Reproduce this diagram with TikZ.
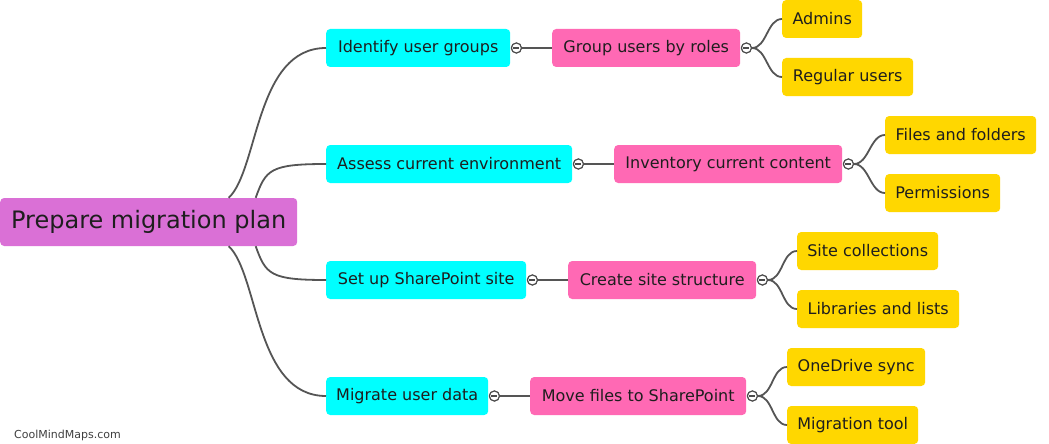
\documentclass[tikz,border=0pt]{standalone}
\usepackage{fontspec}
\setmainfont{DejaVu Sans}
\definecolor{lvlzero}{HTML}{DA70D6}
\definecolor{lvlone}{HTML}{00FFFF}
\definecolor{lvltwo}{HTML}{FF69B4}
\definecolor{lvlthree}{HTML}{FFD700}
\definecolor{txt}{HTML}{1E1E1E}
\definecolor{edge}{HTML}{555555}
\tikzset{
  box/.style={rounded corners=4pt, inner sep=0pt, minimum height=38pt, anchor=west,
    text=txt, font=\fontsize{16}{19}\selectfont},
  rootbox/.style={box, fill=lvlzero, minimum height=48pt, font=\fontsize{24}{28}\selectfont},
  onebox/.style={box, fill=lvlone},
  twobox/.style={box, fill=lvltwo},
  threebox/.style={box, fill=lvlthree},
  link/.style={draw=edge, line width=1.8pt},
  toggle/.style={circle, draw=txt!80, fill=white, line width=1.1pt, minimum size=10pt, inner sep=0pt,
    path picture={\draw[line width=1.1pt, txt!80] ([xshift=-3pt]path picture bounding box.center) -- ([xshift=3pt]path picture bounding box.center);}}
}
\begin{document}
\begin{tikzpicture}[x=1pt, y=-1pt]
\useasboundingbox[fill=white] (0,0) rectangle (1049,444);

% root
\node[rootbox, minimum width=297pt] (root) at (0,222) {Prepare migration plan};

% level one
\node[onebox, minimum width=184pt] (a1) at (326,48) {Identify user groups};
\node[onebox, minimum width=246pt] (a2) at (326,164) {Assess current environment};
\node[onebox, minimum width=200pt] (a3) at (326,280) {Set up SharePoint site};
\node[onebox, minimum width=162pt] (a4) at (326,396) {Migrate user data};

% level two
\node[twobox, minimum width=188pt] (b1) at (552,48) {Group users by roles};
\node[twobox, minimum width=228pt] (b2) at (614,164) {Inventory current content};
\node[twobox, minimum width=188pt] (b3) at (568,280) {Create site structure};
\node[twobox, minimum width=216pt] (b4) at (530,396) {Move files to SharePoint};

% level three
\node[threebox, minimum width=80pt]  (d1) at (782,19)  {Admins};
\node[threebox, minimum width=131pt] (d2) at (782,77)  {Regular users};
\node[threebox, minimum width=151pt] (d3) at (885,135) {Files and folders};
\node[threebox, minimum width=115pt] (d4) at (885,193) {Permissions};
\node[threebox, minimum width=141pt] (d5) at (797,251) {Site collections};
\node[threebox, minimum width=162pt] (d6) at (797,309) {Libraries and lists};
\node[threebox, minimum width=138pt] (d7) at (787,367) {OneDrive sync};
\node[threebox, minimum width=131pt] (d8) at (787,425) {Migration tool};

% root connectors
\draw[link] ([xshift=80pt]root.north) .. controls +(30,-28) and +(-71,0) .. (a1.west);
\draw[link] ([xshift=107pt]root.north) .. controls +(10,-28) and +(-56,0) .. (a2.west);
\draw[link] ([xshift=107pt]root.south) .. controls +(10,28) and +(-56,0) .. (a3.west);
\draw[link] ([xshift=80pt]root.south) .. controls +(30,28) and +(-71,0) .. (a4.west);

% level one -> level two
\foreach \i in {1,2,3,4}{
  \node[toggle] (ca\i) at ([xshift=6pt]a\i.east) {};
  \draw[link] (ca\i.east) -- (b\i.west);
  \node[toggle] (cb\i) at ([xshift=6pt]b\i.east) {};
}
\draw[link] (cb1.east) .. controls +(15,0) and +(-15,0) .. (d1.west);
\draw[link] (cb1.east) .. controls +(15,0) and +(-15,0) .. (d2.west);
\draw[link] (cb2.east) .. controls +(15,0) and +(-15,0) .. (d3.west);
\draw[link] (cb2.east) .. controls +(15,0) and +(-15,0) .. (d4.west);
\draw[link] (cb3.east) .. controls +(15,0) and +(-15,0) .. (d5.west);
\draw[link] (cb3.east) .. controls +(15,0) and +(-15,0) .. (d6.west);
\draw[link] (cb4.east) .. controls +(15,0) and +(-15,0) .. (d7.west);
\draw[link] (cb4.east) .. controls +(15,0) and +(-15,0) .. (d8.west);
% redraw toggles on top
\foreach \i in {1,2,3,4}{
  \node[toggle] at (ca\i) {};
  \node[toggle] at (cb\i) {};
}

\node[anchor=west, inner sep=0pt, text=txt!85, font=\fontsize{11}{13}\selectfont] (wm) at (14,435) {CoolMindMaps.com};
\end{tikzpicture}
\end{document}
